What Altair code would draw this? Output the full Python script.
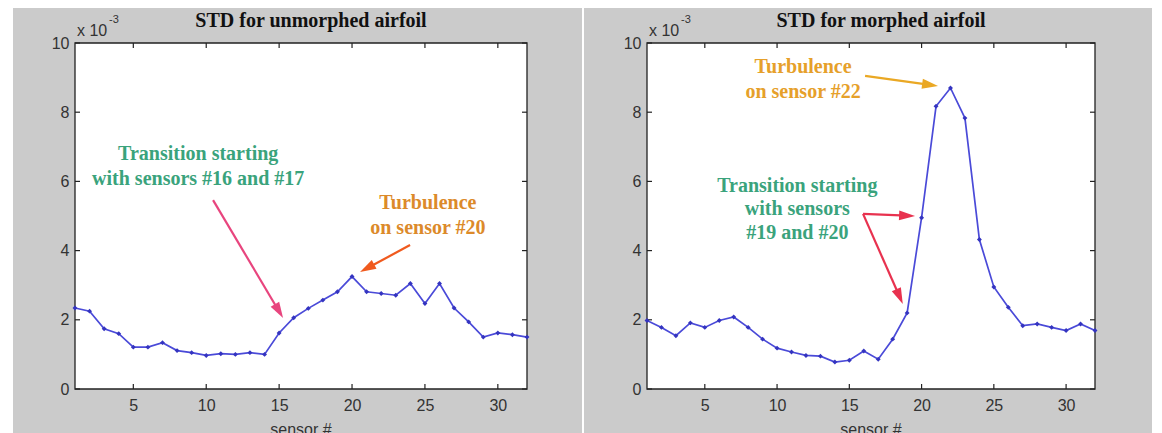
import math
import altair as alt
import pandas as pd

# ---------------- data (values in units of 1e-3) ----------------
sensors = list(range(1, 33))
std_unmorphed = [2.34, 2.25, 1.74, 1.60, 1.21, 1.21, 1.34, 1.11, 1.05, 0.97, 1.02, 1.00,
                 1.05, 1.00, 1.62, 2.06, 2.33, 2.57, 2.81, 3.25, 2.81, 2.76, 2.71, 3.05,
                 2.47, 3.05, 2.34, 1.94, 1.50, 1.62, 1.57, 1.50]
std_morphed = [1.98, 1.78, 1.54, 1.91, 1.78, 1.98, 2.08, 1.78, 1.44, 1.18, 1.07, 0.97,
               0.95, 0.78, 0.83, 1.10, 0.86, 1.44, 2.20, 4.95, 8.17, 8.70, 7.83, 4.32,
               2.95, 2.36, 1.83, 1.88, 1.78, 1.69, 1.88, 1.69]
x_ticks = [5, 10, 15, 20, 25, 30]
y_ticks = [0, 2, 4, 6, 8, 10]
titles = ["STD for unmorphed airfoil", "STD for morphed airfoil"]
x_label = "sensor #"

# annotation texts (anchor in data units)
left_text = ["Transition starting", "with sensors #16 and #17", "Turbulence", "on sensor #20"]
left_text_x = [9.45, 9.45, 25.2, 25.2]
left_text_y = [6.78, 6.06, 5.38, 4.65]
left_text_col = ["#3aa37c", "#3aa37c", "#dc8a2a", "#dc8a2a"]
left_arrow_x = [10.47, 23.98]
left_arrow_y = [5.46, 4.16]
left_arrow_x2 = [15.27, 20.55]
left_arrow_y2 = [2.05, 3.38]
left_arrow_col = ["#e8457e", "#f05a1e"]

right_text = ["Turbulence", "on sensor #22", "Transition starting", "with sensors", "#19 and #20"]
right_text_x = [11.8, 11.8, 11.4, 11.4, 11.4]
right_text_y = [9.31, 8.58, 5.87, 5.20, 4.51]
right_text_col = ["#e6a02a", "#e6a02a", "#3aa37c", "#3aa37c", "#3aa37c"]
right_arrow_x = [16.09, 15.95, 15.95]
right_arrow_y = [9.05, 5.06, 5.06]
right_arrow_x2 = [21.14, 19.55, 18.70]
right_arrow_y2 = [8.76, 5.00, 2.46]
right_arrow_col = ["#eaa824", "#e8324f", "#e8324f"]

GRAY = "#cbcbcb"
BLUE = "#4a4ad8"
AXC = "#222222"
LAB = "#333333"
H = 346
HEAD = "M0,-1L0.62,1L-0.62,1Z"
HEAD_SIZE = 256

X_AXIS = alt.Axis(values=x_ticks, title=None, ticks=False, domain=False, grid=False,
                  labelFont="Liberation Sans", labelFontSize=16, labelColor=LAB,
                  labelPadding=8, zindex=1)
Y_AXIS = alt.Axis(values=y_ticks, title=None, ticks=False, domain=False, grid=False,
                  labelFont="Liberation Sans", labelFontSize=16, labelColor=LAB,
                  labelPadding=6, zindex=1)


def panel(values, title, W, gray_x0, gray_x1, texts, tx, ty, tcol, ax, ay, ax2, ay2, acol):
    xs = alt.Scale(domain=[1, 32], nice=False, zero=False)
    ys = alt.Scale(domain=[0, 10], nice=False, zero=False)

    def X(f):
        return alt.X(f, scale=xs, axis=X_AXIS)

    def Y(f):
        return alt.Y(f, scale=ys, axis=Y_AXIS)

    one = pd.DataFrame({"a": [0]})
    ppx = W / 31.0
    ppy = H / 10.0

    bg = alt.Chart(one).mark_rect(color=GRAY).encode(
        x=alt.value(gray_x0), x2=alt.value(gray_x1), y=alt.value(-35), y2=alt.value(400))
    plot_bg = alt.Chart(one).mark_rect(fill="white", stroke=AXC, strokeWidth=1.3).encode(
        x=alt.value(0), x2=alt.value(W), y=alt.value(0), y2=alt.value(H))

    df = pd.DataFrame({"sensor": sensors, "std": values})
    line = alt.Chart(df).mark_line(color=BLUE, strokeWidth=1.7).encode(
        x=X("sensor:Q"), y=Y("std:Q"))
    pts = alt.Chart(df).mark_point(shape="diamond", filled=True, size=24, color="#3434c0",
                                   opacity=1).encode(x=X("sensor:Q"), y=Y("std:Q"))

    xt = pd.DataFrame({"t": x_ticks})
    yt = pd.DataFrame({"t": y_ticks})
    tx_bottom = alt.Chart(xt).mark_rule(color=AXC, strokeWidth=1.2).encode(
        x=X("t:Q"), y=alt.value(H - 5), y2=alt.value(H))
    tx_top = alt.Chart(xt).mark_rule(color=AXC, strokeWidth=1.2).encode(
        x=X("t:Q"), y=alt.value(0), y2=alt.value(5))
    ty_left = alt.Chart(yt).mark_rule(color=AXC, strokeWidth=1.2).encode(
        y=Y("t:Q"), x=alt.value(0), x2=alt.value(5))
    ty_right = alt.Chart(yt).mark_rule(color=AXC, strokeWidth=1.2).encode(
        y=Y("t:Q"), x=alt.value(W - 5), x2=alt.value(W))

    tdf = pd.DataFrame({"x": tx, "y": ty, "label": texts, "col": tcol})
    ann = alt.Chart(tdf).mark_text(font="Liberation Serif", fontWeight="bold", fontSize=20,
                                   align="center", baseline="middle").encode(
        x=X("x:Q"), y=Y("y:Q"), text="label:N", color=alt.Color("col:N", scale=None))

    rows = []
    for x1, y1, x2, y2, c in zip(ax, ay, ax2, ay2, acol):
        dx = (x2 - x1) * ppx
        dy = -(y2 - y1) * ppy
        n = math.hypot(dx, dy)
        ux, uy = dx / n, dy / n
        ang = math.degrees(math.atan2(dx, -dy)) % 360
        half = math.sqrt(HEAD_SIZE) / 2
        rows.append({"x": x1, "y": y1,
                     "x2": x2 - ux * half / ppx, "y2": y2 + uy * half / ppy,
                     "cx": x2 - ux * half / ppx, "cy": y2 + uy * half / ppy,
                     "ang": ang, "col": c})
    adf = pd.DataFrame(rows)
    shafts = alt.Chart(adf).mark_rule(strokeWidth=2.2).encode(
        x=X("x:Q"), y=Y("y:Q"), x2="x2:Q", y2="y2:Q", color=alt.Color("col:N", scale=None))
    heads = alt.Chart(adf).mark_point(shape=HEAD, filled=True, size=HEAD_SIZE, opacity=1,
                                      strokeWidth=0).encode(
        x=X("cx:Q"), y=Y("cy:Q"),
        angle=alt.Angle("ang:Q", scale=None), color=alt.Color("col:N", scale=None))

    ttl = alt.Chart(one).mark_text(font="Liberation Serif", fontWeight="bold", fontSize=20,
                                   color="#111", align="center", baseline="middle").encode(
        x=alt.value(W / 2 + 10), y=alt.value(-22), text=alt.value(title))
    mult = alt.Chart(one).mark_text(font="Liberation Sans", fontSize=16, color=LAB,
                                    align="left", baseline="alphabetic").encode(
        x=alt.value(2), y=alt.value(-7), text=alt.value("x 10"))
    expo = alt.Chart(one).mark_text(font="Liberation Sans", fontSize=11, color=LAB,
                                    align="left", baseline="alphabetic").encode(
        x=alt.value(34), y=alt.value(-20), text=alt.value("-3"))
    xl = alt.Chart(one).mark_text(font="Liberation Sans", fontSize=16, color=LAB,
                                  align="center", baseline="top").encode(
        x=alt.value(W / 2), y=alt.value(379), text=alt.value(x_label))

    return alt.layer(bg, plot_bg, tx_bottom, tx_top, ty_left, ty_right, line, pts,
                     shafts, heads, ann, ttl, mult, expo, xl).properties(width=W, height=H)


left = panel(std_unmorphed, titles[0], 452, -62, 507,
             left_text, left_text_x, left_text_y, left_text_col,
             left_arrow_x, left_arrow_y, left_arrow_x2, left_arrow_y2, left_arrow_col)
right = panel(std_morphed, titles[1], 448, -63, 505,
              right_text, right_text_x, right_text_y, right_text_col,
              right_arrow_x, right_arrow_y, right_arrow_x2, right_arrow_y2, right_arrow_col)

chart = alt.hconcat(left, right, spacing=2).properties(
    padding={"left": 5, "top": 0, "right": 0, "bottom": 0},
    background="white",
).configure_view(stroke=None)

chart.save("out.html", embed_options={"renderer": "svg", "actions": False})
